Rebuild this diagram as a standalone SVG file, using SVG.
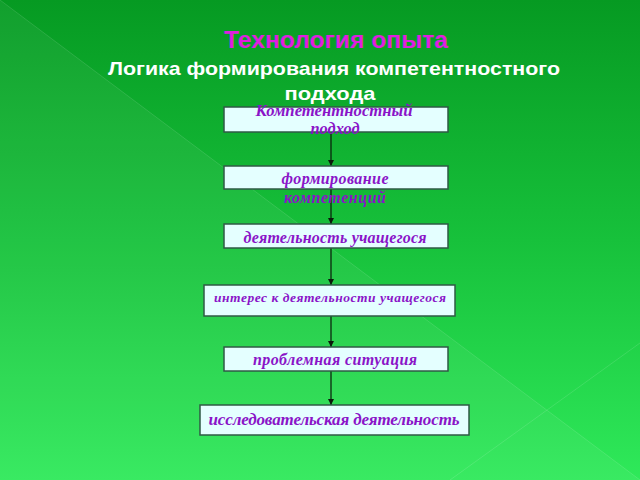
<svg xmlns="http://www.w3.org/2000/svg" width="640" height="480" viewBox="0 0 640 480">
<defs>
<linearGradient id="bg" x1="0" y1="0" x2="0" y2="1">
<stop offset="0" stop-color="#069a22"/>
<stop offset="0.5" stop-color="#17c13b"/>
<stop offset="1" stop-color="#2fe95a"/>
</linearGradient>
<marker id="ah" viewBox="0 0 10 10" refX="10" refY="5" markerWidth="6" markerHeight="6" markerUnits="userSpaceOnUse" orient="auto">
<path d="M0,0 L10,5 L0,10 z" fill="#0a1a0a"/>
</marker>
<style>
.box{fill:#e4ffff;stroke:#2f5a45;stroke-width:1.5}
.lbl{font-family:"Liberation Serif","DejaVu Serif",serif;font-weight:bold;font-style:italic;fill:#8a14c8;text-anchor:middle}
.conn{stroke:#0a1a0a;stroke-width:1.2;fill:none;marker-end:url(#ah)}
.hd{font-family:"Liberation Sans",Arial,sans-serif;font-weight:bold;text-anchor:middle}
</style>
</defs>
<rect width="640" height="480" fill="url(#bg)"/>
<polygon points="0,0 640,480 0,480" fill="#ffffff" opacity="0.05"/>
<line x1="0" y1="0" x2="640" y2="480" stroke="#ffffff" stroke-opacity="0.12" stroke-width="1"/>
<line x1="640" y1="343" x2="450" y2="480" stroke="#ffffff" stroke-opacity="0.12" stroke-width="1"/>
<text class="hd" x="336" y="48" font-size="24" fill="#e01ee0" textLength="224" lengthAdjust="spacingAndGlyphs">Технология опыта</text>
<text class="hd" x="334" y="75" font-size="19" fill="#ffffff" textLength="452" lengthAdjust="spacingAndGlyphs">Логика формирования компетентностного</text>
<text class="hd" x="330" y="100" font-size="19" fill="#ffffff" textLength="91" lengthAdjust="spacingAndGlyphs">подхода</text>
<g id="connectors">
<line class="conn" x1="331" y1="132" x2="331" y2="166"/>
<line class="conn" x1="331" y1="189" x2="331" y2="224"/>
<line class="conn" x1="331" y1="248" x2="331" y2="285"/>
<line class="conn" x1="331" y1="316" x2="331" y2="347"/>
<line class="conn" x1="331" y1="371" x2="331" y2="405"/>
</g>
<g id="n1">
<rect class="box" x="224" y="107" width="224" height="25"/>
<text class="lbl" x="334" y="116" font-size="16" textLength="157" lengthAdjust="spacingAndGlyphs">Компетентностный</text>
<text class="lbl" x="335" y="134" font-size="16" textLength="49" lengthAdjust="spacingAndGlyphs">подход</text>
</g>
<g id="n2">
<rect class="box" x="224" y="166" width="224" height="23"/>
<text class="lbl" x="335" y="184" font-size="16" textLength="107" lengthAdjust="spacing">формирование</text>
<text class="lbl" x="335" y="203" font-size="16" textLength="102" lengthAdjust="spacing">компетенций</text>
</g>
<g id="n3">
<rect class="box" x="224" y="224" width="224" height="24"/>
<text class="lbl" x="335" y="243" font-size="16" textLength="183" lengthAdjust="spacing">деятельность учащегося</text>
</g>
<g id="n4">
<rect class="box" x="204" y="285" width="251" height="31"/>
<text class="lbl" x="330" y="302" font-size="13.5" textLength="232" lengthAdjust="spacing">интерес к деятельности учащегося</text>
</g>
<g id="n5">
<rect class="box" x="224" y="347" width="224" height="24"/>
<text class="lbl" x="335" y="365" font-size="16" textLength="164" lengthAdjust="spacing">проблемная ситуация</text>
</g>
<g id="n6">
<rect class="box" x="200" y="405" width="269" height="30"/>
<text class="lbl" x="334" y="425" font-size="17" textLength="251" lengthAdjust="spacing">исследовательская деятельность</text>
</g>
</svg>
